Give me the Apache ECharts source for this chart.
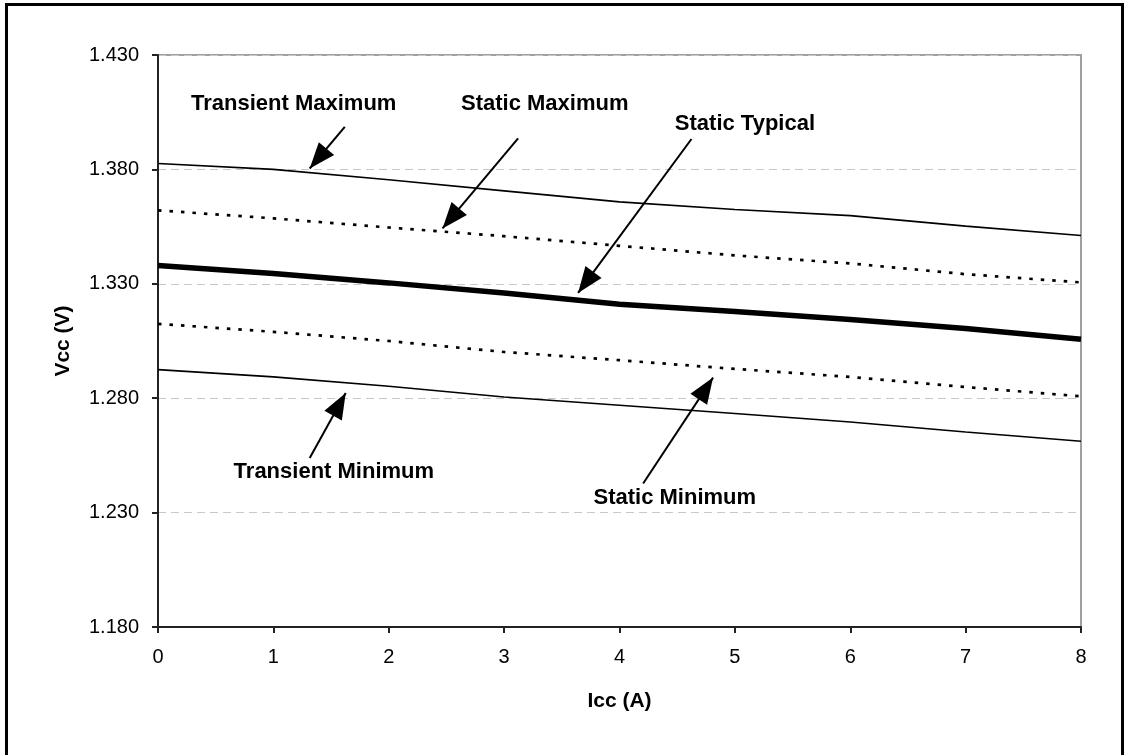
<!DOCTYPE html>
<html>
<head>
<meta charset="utf-8">
<script src="https://cdn.jsdelivr.net/npm/echarts@6/dist/echarts.min.js"></script>
<style>
  html, body { margin: 0; padding: 0; background: #fff; }
  #chart { position: absolute; left: 0; top: 0; width: 1124px; height: 755px; }
  #frame { position: absolute; left: 5px; top: 3px; width: 1119px; height: 800px; box-sizing: border-box; border: 3px solid #000; pointer-events: none; }
</style>
</head>
<body>
<div id="chart"></div>
<div id="frame"></div>
<script>
// ---- data ----
const icc = [0, 1, 2, 3, 4, 5, 6, 7, 8];
const transientMax = [1.3826, 1.3800, 1.3755, 1.3706, 1.3658, 1.3625, 1.3598, 1.3552, 1.3511];
const staticMax    = [1.3621, 1.3586, 1.3546, 1.3508, 1.3466, 1.3424, 1.3389, 1.3342, 1.3306];
const staticTyp    = [1.3380, 1.3345, 1.3304, 1.3260, 1.3211, 1.3179, 1.3144, 1.3105, 1.3058];
const staticMin    = [1.3125, 1.3090, 1.3050, 1.3002, 1.2966, 1.2928, 1.2893, 1.2849, 1.2808];
const transientMin = [1.2925, 1.2893, 1.2852, 1.2805, 1.2769, 1.2733, 1.2696, 1.2652, 1.2612];

// annotation texts and their anchor points (data coordinates)
const noteTexts  = ['Transient Maximum', 'Static Maximum', 'Static Typical', 'Transient Minimum', 'Static Minimum'];
const noteAt     = [[1.176, 1.4086], [3.352, 1.4086], [5.087, 1.3998], [1.524, 1.2476], [4.479, 1.2362]];
const arrowFrom  = [[1.619, 1.3986], [3.121, 1.3936], [4.624, 1.3933], [1.315, 1.2539], [4.205, 1.2427]];
const arrowTo    = [[1.315, 1.3804], [2.466, 1.3542], [3.641, 1.3260], [1.627, 1.2823], [4.811, 1.2890]];

const FONT = '"Liberation Sans", Arial, sans-serif';
const pairs = arr => icc.map((x, i) => [x, arr[i]]);

const chart = echarts.init(document.getElementById('chart'), null, { renderer: 'canvas' });
chart.setOption({
  animation: false,
  backgroundColor: 'transparent',
  textStyle: { fontFamily: FONT },
  grid: {
    left: 158, right: 43, top: 55, bottom: 128,
    show: true, borderColor: '#a0a0a0', borderWidth: 2, backgroundColor: 'transparent'
  },
  xAxis: {
    type: 'value', min: 0, max: 8, interval: 1,
    name: 'Icc (A)', nameLocation: 'middle', nameGap: 64,
    nameTextStyle: { fontFamily: FONT, fontSize: 21, fontWeight: 'bold', color: '#000' },
    axisLine: { show: true, onZero: false, lineStyle: { color: '#222', width: 2 } },
    axisTick: { show: true, inside: false, length: 6, lineStyle: { color: '#222', width: 2 } },
    axisLabel: { margin: 20, fontFamily: FONT, fontSize: 20, color: '#000' },
    splitLine: { show: false }
  },
  yAxis: {
    type: 'value', min: 1.18, max: 1.43, interval: 0.05,
    name: 'Vcc (V)', nameLocation: 'middle', nameGap: 84, nameRotate: 90,
    nameTextStyle: { fontFamily: FONT, fontSize: 21, fontWeight: 'bold', color: '#000' },
    axisLine: { show: true, onZero: false, lineStyle: { color: '#222', width: 2 } },
    axisTick: { show: true, inside: false, length: 6, lineStyle: { color: '#222', width: 2 } },
    axisLabel: { margin: 19, fontFamily: FONT, fontSize: 20, color: '#000', formatter: v => v.toFixed(3) },
    splitLine: { show: true, lineStyle: { color: '#c8c8c8', width: 1, type: [8, 5] } }
  },
  series: [
    { name: 'Transient Maximum', type: 'line', data: pairs(transientMax), showSymbol: false,
      lineStyle: { color: '#000', width: 1.6 } },
    { name: 'Static Maximum', type: 'line', data: pairs(staticMax), showSymbol: false,
      lineStyle: { color: '#000', width: 2.7, type: [3.5, 8], cap: 'butt' } },
    { name: 'Static Typical', type: 'line', data: pairs(staticTyp), showSymbol: false,
      lineStyle: { color: '#000', width: 5.5 } },
    { name: 'Static Minimum', type: 'line', data: pairs(staticMin), showSymbol: false,
      lineStyle: { color: '#000', width: 2.7, type: [3.5, 8], cap: 'butt' } },
    { name: 'Transient Minimum', type: 'line', data: pairs(transientMin), showSymbol: false,
      lineStyle: { color: '#000', width: 1.6 } },
    {
      name: 'notes', type: 'scatter', symbolSize: 0, silent: true, z: 5,
      itemStyle: { opacity: 1, color: '#000' },
      data: noteTexts.map((t, i) => ({ name: t, value: noteAt[i] })),
      label: {
        show: true, position: 'inside', formatter: p => p.name, opacity: 1,
        fontFamily: FONT, fontSize: 22, fontWeight: 'bold', color: '#000'
      },
      markLine: {
        silent: true, animation: false,
        symbol: ['none', 'triangle'], symbolSize: [20, 26],
        symbolOffset: [[0, 0], [0, 13]],
        lineStyle: { color: '#000', width: 2, type: 'solid', opacity: 1 },
        label: { show: false },
        emphasis: { disabled: true },
        data: arrowFrom.map((f, i) => [{ coord: f }, { coord: arrowTo[i] }])
      }
    }
  ]
});
</script>
</body>
</html>
